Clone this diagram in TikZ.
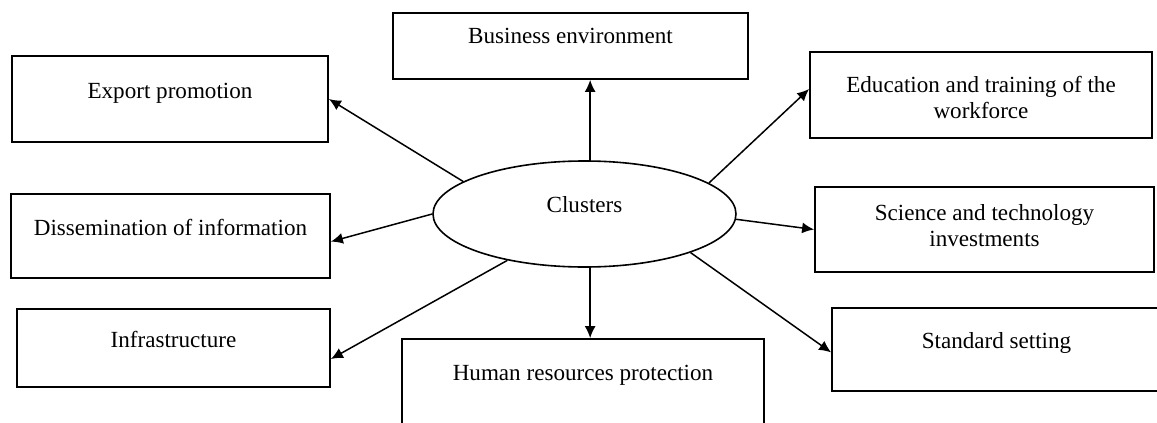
\documentclass[tikz,border=0pt]{standalone}
\usepackage{fontspec}
\setmainfont{Liberation Serif}
\usetikzlibrary{arrows.meta,shapes.geometric}

\begin{document}
\begin{tikzpicture}[x=0.5pt, y=-0.5pt,
        font=\fontsize{11.55}{13}\selectfont,
        >={Latex[length=6pt,width=5.5pt]},
        box/.style 2 args={draw, line width=0.9pt, inner sep=0pt, align=center,
                           text height=#1, text depth=#2},
        link/.style={line width=0.75pt, ->}]

        \useasboundingbox (0,0) rectangle (1157,423);

        %Centre
        \node [draw, ellipse, line width=0.8pt, minimum width=151.5pt, minimum height=53pt,
               text height=8pt, text depth=10pt] (cl) at (584.5,214) {Clusters};

        %Upper row
        \node [box={15pt}{18pt}, minimum width=177.5pt]     (bus) at (570.5,46)    {Business environment};
        \node [box={21pt}{22pt}, minimum width=158pt]       (exp) at (170,99)      {Export promotion};
        \node [box={33pt}{10pt}, minimum width=171pt]       (edu) at (981,95)      {Education and training of the\\workforce};

        %Middle row
        \node [box={20.5pt}{21.5pt}, minimum width=159.5pt] (dis) at (170.5,236)   {Dissemination of information};
        \node [box={29.5pt}{13pt}, minimum width=169.5pt]   (sci) at (984.5,229.5) {Science and technology\\investments};

        %Lower row
        \node [box={19pt}{20pt}, minimum width=156.5pt]     (inf) at (173.5,348)   {Infrastructure};
        \node [box={20.5pt}{23.5pt}, minimum width=181pt]   (hum) at (583,383)     {Human resources protection};
        \node [box={20pt}{21.5pt}, minimum width=164.5pt]   (std) at (996.5,349.5) {Standard setting};

        %Links
        \draw [link] (cl.84)  -- (cl.84 |- bus.south);
        \draw [link] (cl.-84) -- (cl.-84 |- hum.north);
        \draw [link] (cl.165) -- (exp.east);
        \draw [link] (cl.180) -- (dis.-2);
        \draw [link] (cl.211) -- (inf.-4);
        \draw [link] (cl.14)  -- (edu.178);
        \draw [link] (cl.-2)  -- (sci.west);
        \draw [link] (cl.-20) -- (std.181);

\end{tikzpicture}
\end{document}
